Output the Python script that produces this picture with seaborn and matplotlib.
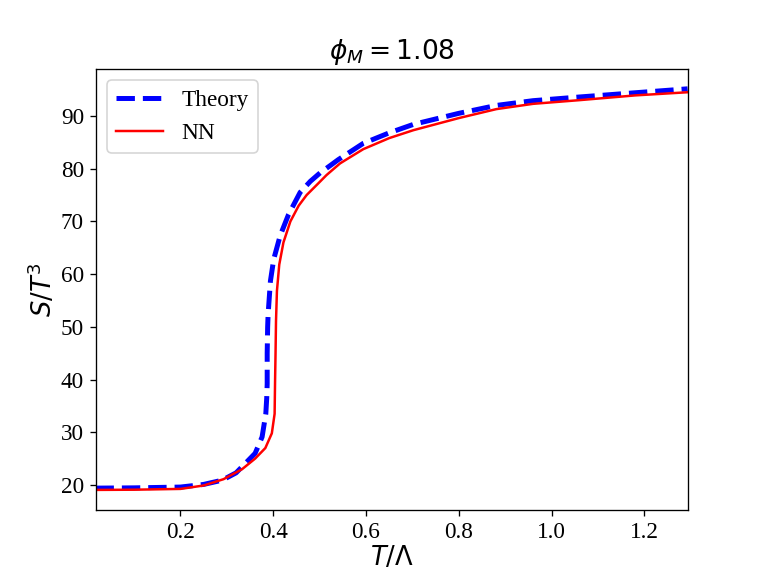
"""S/T^3 vs T/Lambda: theory curve against the NN reconstruction."""

import matplotlib

matplotlib.use("Agg")
import matplotlib.pyplot as plt  # noqa: E402
import pandas as pd  # noqa: E402
import seaborn as sns  # noqa: E402
from matplotlib.ticker import MultipleLocator  # noqa: E402

# values
theory_t = [0.017, 0.10, 0.20, 0.25, 0.29, 0.32, 0.340, 0.361, 0.376, 0.384,
            0.386, 0.387, 0.387, 0.388, 0.389, 0.394, 0.401, 0.415, 0.433,
            0.458, 0.480, 0.501, 0.523, 0.540, 0.594, 0.650, 0.702, 0.800,
            0.881, 0.960, 1.060, 1.180, 1.293]
theory_s = [19.4, 19.45, 19.6, 20.1, 20.9, 22.3, 24.1, 26.0, 29.1, 33.5,
            36.5, 39.2, 45.0, 50.0, 52.4, 58.7, 62.8, 67.3, 71.3,
            75.5, 77.6, 79.2, 80.6, 81.7, 84.8, 86.8, 88.4, 90.5,
            92.0, 92.9, 93.6, 94.4, 95.15]

nn_t = [0.017, 0.10, 0.20, 0.25, 0.293, 0.333, 0.361, 0.383, 0.397, 0.403,
        0.404, 0.405, 0.406, 0.408, 0.413, 0.422, 0.437, 0.455, 0.472,
        0.497, 0.515, 0.544, 0.594, 0.650, 0.702, 0.800, 0.881, 0.960,
        1.060, 1.180, 1.293]
nn_s = [19.06, 19.1, 19.25, 19.9, 21.1, 23.0, 25.0, 27.0, 29.8, 33.5,
        39.8, 45.0, 51.1, 56.8, 61.8, 66.0, 70.0, 73.0, 75.0,
        77.2, 78.8, 81.0, 83.7, 85.8, 87.3, 89.6, 91.3, 92.3,
        93.0, 93.9, 94.5]

plt.rcParams["font.family"] = ["Liberation Serif", "DejaVu Serif"]
plt.rcParams["mathtext.fontset"] = "dejavusans"

theory = pd.DataFrame({"t": theory_t, "s": theory_s})
nn = pd.DataFrame({"t": nn_t, "s": nn_s})

figure, axis = plt.subplots(figsize=(6.4, 4.8), dpi=119.375)
sns.lineplot(data=theory, x="t", y="s", sort=False, estimator=None,
             color="blue", linestyle="--", linewidth=3, label="Theory", ax=axis)
sns.lineplot(data=nn, x="t", y="s", sort=False, estimator=None,
             color="red", linewidth=1.5, label="NN", ax=axis)

axis.set_xlim(min(theory_t), max(theory_t))
axis.xaxis.set_major_locator(MultipleLocator(0.2))
axis.yaxis.set_major_locator(MultipleLocator(10))
axis.tick_params(labelsize=14)
axis.set_xlabel(r"$T/\Lambda$", fontsize=15.5, labelpad=1)
axis.set_ylabel(r"$S/T^3$", fontsize=15.5, labelpad=2)
axis.set_title(r"$\phi_M = 1.08$", fontsize=16)
axis.legend(loc="upper left", fontsize=14)

figure.savefig("out.png", dpi=119.375)
